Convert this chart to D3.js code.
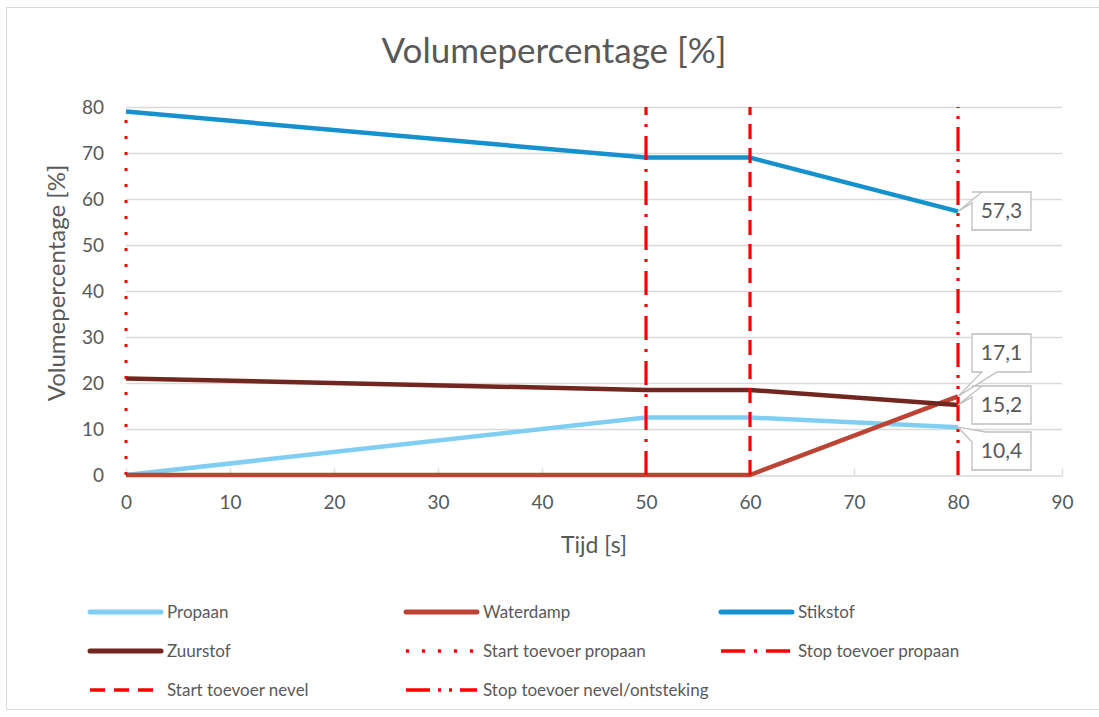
<!DOCTYPE html>
<html>
<head>
<meta charset="utf-8">
<script src="https://cdn.jsdelivr.net/npm/d3@7"></script>
<style>
  body { margin: 0; background: #fff; }
  svg text { font-family: Lato, "Open Sans", sans-serif; fill: #595959; }
</style>
</head>
<body>
<svg id="chart" width="1099" height="717"></svg>
<script>
var tijd = [0, 50, 60, 80];
var propaan = [0, 12.5, 12.5, 10.4];
var waterdamp = [0, 0, 0, 17.1];
var stikstof = [79, 69, 69, 57.3];
var zuurstof = [21, 18.5, 18.5, 15.2];
var xTicks = [0, 10, 20, 30, 40, 50, 60, 70, 80, 90];
var yTicks = [0, 10, 20, 30, 40, 50, 60, 70, 80];
var seriesNames = ["Propaan", "Waterdamp", "Stikstof", "Zuurstof"];
var markerNames = ["Start toevoer propaan", "Stop toevoer propaan", "Start toevoer nevel", "Stop toevoer nevel/ontsteking"];
var markerTimes = [0, 50, 60, 80];
var labelValues = [57.3, 17.1, 15.2, 10.4];

var colors = { "Propaan": "#80cff2", "Waterdamp": "#bb4434", "Stikstof": "#1591cd", "Zuurstof": "#722620" };
var dashes = ["3,13", "24,9,3,9", "15,9", "24,8,3,8,3,8"];

var svg = d3.select("#chart");

// chart border
svg.append("rect").attr("x", 6.5).attr("y", 7.5).attr("width", 1100).attr("height", 702)
  .attr("fill", "#fff").attr("stroke", "#d9d9d9");

var x = d3.scaleLinear().domain([0, 90]).range([126, 1062]);
var y = d3.scaleLinear().domain([0, 80]).range([475, 107]);

// gridlines
svg.append("g").selectAll("line").data(yTicks.filter(d => d > 0)).enter().append("line")
  .attr("x1", x(0)).attr("x2", x(90))
  .attr("y1", d => y(d) + 0.5).attr("y2", d => y(d) + 0.5)
  .attr("stroke", "#d9d9d9").attr("stroke-width", 1.3);

// x axis
var xa = svg.append("g").attr("transform", "translate(0," + (y(0) + 0.5) + ")")
  .call(d3.axisBottom(x).tickValues(xTicks).tickSizeInner(-7).tickSizeOuter(0).tickPadding(20));
xa.select(".domain").attr("stroke", "#d9d9d9").attr("stroke-width", 1.3);
xa.selectAll(".tick line").attr("stroke", "#d9d9d9").attr("stroke-width", 1.3);
xa.selectAll("text").attr("font-size", 19).attr("fill", "#595959").attr("font-family", "Lato");

// y axis
var ya = svg.append("g").attr("transform", "translate(" + x(0) + ",0)")
  .call(d3.axisLeft(y).tickValues(yTicks).tickSize(0).tickPadding(22));
ya.select(".domain").remove();
ya.selectAll("text").attr("font-size", 19).attr("fill", "#595959").attr("font-family", "Lato");

// titles
svg.append("text").attr("x", 554).attr("y", 63).attr("text-anchor", "middle")
  .attr("font-size", 35).text("Volumepercentage [%]");
svg.append("text").attr("x", 594).attr("y", 553).attr("text-anchor", "middle")
  .attr("font-size", 23).text("Tijd [s]");
svg.append("text").attr("transform", "translate(65," + (y(40) - 8) + ") rotate(-90)")
  .attr("text-anchor", "middle").attr("font-size", 24).text("Volumepercentage [%]");

// series lines
var rows = { "Propaan": propaan, "Waterdamp": waterdamp, "Stikstof": stikstof, "Zuurstof": zuurstof };
var line = d3.line().x(d => x(d[0])).y(d => y(d[1]));
var drawOrder = ["Propaan", "Waterdamp", "Stikstof", "Zuurstof"];
drawOrder.forEach(function(name) {
  svg.append("path").datum(tijd.map((t, i) => [t, rows[name][i]]))
    .attr("d", line).attr("fill", "none")
    .attr("stroke", colors[name]).attr("stroke-width", 4.5)
    .attr("stroke-linejoin", "round");
});

// marker lines
markerTimes.forEach(function(t, i) {
  svg.append("line").attr("x1", x(t)).attr("x2", x(t))
    .attr("y1", y(0)).attr("y2", y(80))
    .attr("stroke", "#ff0000").attr("stroke-width", i == 0 ? 3 : 3.2)
    .attr("stroke-dasharray", dashes[i]);
});

// data label callouts
var boxW = 59, boxH = 38;
var labelBoxes = [
  { top: 192, side: "left" },
  { top: 334, side: "bottom" },
  { top: 386, side: "left" },
  { top: 432, side: "top" }
];
labelValues.forEach(function(v, i) {
  var px = x(80), py = y(v);
  var bx = 972, by = labelBoxes[i].top;
  var r = bx + boxW, b = by + boxH, p;
  if (labelBoxes[i].side == "left") {
    p = "M" + bx + "," + by + "H" + r + "V" + b + "H" + bx + "V" + (by + 11) +
        "L" + px + "," + py + "L" + (bx + 10) + "," + by + "Z";
  } else if (labelBoxes[i].side == "bottom") {
    p = "M" + bx + "," + by + "H" + r + "V" + b + "H" + (bx + 25) +
        "L" + px + "," + py + "L" + (bx + 10) + "," + b + "H" + bx + "Z";
  } else {
    p = "M" + bx + "," + (by + 10) + "L" + px + "," + py + "L" + (bx + 14) + "," + by +
        "H" + r + "V" + b + "H" + bx + "Z";
  }
  svg.append("path").attr("d", p).attr("fill", "#fff").attr("stroke", "#bfbfbf").attr("stroke-width", 1.3);
  svg.append("text").attr("x", bx + boxW / 2).attr("y", by + boxH / 2 + 7)
    .attr("text-anchor", "middle").attr("font-size", 21)
    .text(String(v).replace(".", ","));
});

// legend
var legendItems = seriesNames.map(n => ({ name: n, color: colors[n], dash: null, w: 5 }))
  .concat(markerNames.map((n, i) => ({ name: n, color: "#ff0000", dash: dashes[i], w: 3.5 })));
var colX = [90, 406, 721], rowY = [612, 651, 690];
legendItems.forEach(function(it, i) {
  var cx = colX[i % 3], cy = rowY[Math.floor(i / 3)];
  svg.append("line").attr("x1", cx).attr("x2", cx + 71).attr("y1", cy).attr("y2", cy)
    .attr("stroke", it.color).attr("stroke-width", it.w)
    .attr("stroke-linecap", it.dash ? "butt" : "round")
    .attr("stroke-dasharray", it.dash);
  svg.append("text").attr("x", cx + 77).attr("y", cy + 6).attr("font-size", 17).text(it.name);
});
</script>
</body>
</html>
